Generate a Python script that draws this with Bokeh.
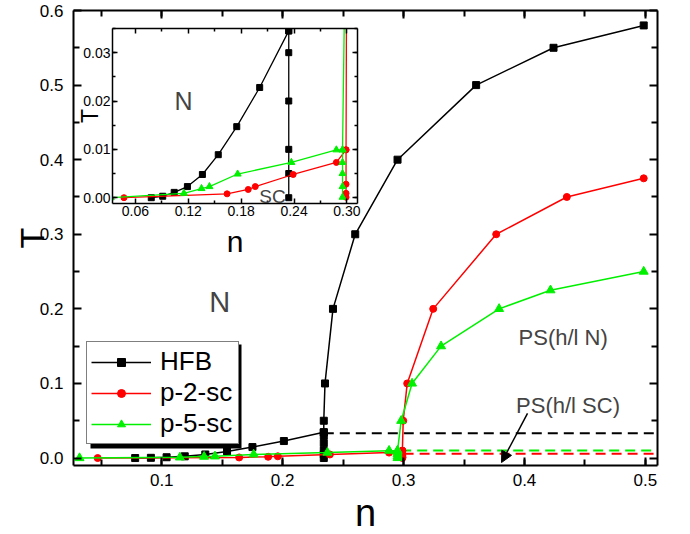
from bokeh.plotting import figure
from bokeh.models import (Range1d, LinearAxis, SingleIntervalTicker, FixedTicker, BoxAnnotation,
                          NumeralTickFormatter, Label, Arrow, NormalHead, Legend, LegendItem)
from bokeh.embed import file_html
from bokeh.resources import INLINE

FONT = "Liberation Sans"

# ---------------- data ----------------
# HFB: low-density branch and the SC boundary / upper branch
hfb_n_low = [0.078, 0.091, 0.104, 0.119, 0.136, 0.154, 0.175, 0.201, 0.234]
hfb_T_low = [0.0, 0.0003, 0.0011, 0.0023, 0.0048, 0.0089, 0.0147, 0.0228, 0.0345]
hfb_n_up = [0.234, 0.234, 0.234, 0.234, 0.234, 0.234, 0.234, 0.235, 0.2416, 0.260, 0.295, 0.360, 0.424, 0.4986]
hfb_T_up = [0.0, 0.005, 0.010, 0.020, 0.030, 0.0345, 0.050, 0.100, 0.200, 0.300, 0.400, 0.500, 0.550, 0.580]

# p-2-sc
p2_n_low = [0.047, 0.164, 0.188, 0.196, 0.239, 0.288, 0.299]
p2_T_low = [0.0, 0.0008, 0.0017, 0.0023, 0.0048, 0.0073, 0.0099]
p2_n_up = [0.299, 0.299, 0.299, 0.299, 0.2997, 0.303, 0.3245, 0.3766, 0.435, 0.4986]
p2_T_up = [0.0001, 0.0009, 0.0028, 0.0099, 0.050, 0.100, 0.200, 0.300, 0.350, 0.375]

# p-5-sc
p5_n_low = [0.032, 0.115, 0.135, 0.144, 0.176, 0.237, 0.288, 0.295]
p5_T_low = [0.0, 0.0009, 0.0019, 0.0023, 0.0049, 0.0073, 0.0099, 0.0099]
p5_n_up = [0.295, 0.295, 0.295, 0.295, 0.295, 0.298, 0.307, 0.331, 0.379, 0.4215, 0.4986]
p5_T_up = [0.0001, 0.0023, 0.0050, 0.0073, 0.0099, 0.050, 0.100, 0.150, 0.200, 0.225, 0.250]

# phase-separation boundaries (dashed)
ps_hfb_n = [0.234, 0.51]
ps_hfb_T = [0.0333, 0.0333]
ps_p5_n = [0.298, 0.51]
ps_p5_T = [0.0100, 0.0100]
ps_p2_n = [0.300, 0.51]
ps_p2_T = [0.0058, 0.0058]

main_y_ticks = [0.0, 0.1, 0.2, 0.3, 0.4, 0.5, 0.6]
main_y_minor = [0.05, 0.15, 0.25, 0.35, 0.45, 0.55]
inset_x_ticks = [0.06, 0.12, 0.18, 0.24, 0.30]
inset_x_minor = [0.03, 0.09, 0.15, 0.21, 0.27]

GREEN = "#00f000"
series = [
    ("HFB", "black", "square", hfb_n_low, hfb_T_low, hfb_n_up, hfb_T_up),
    ("p-2-sc", "#ff0000", "circle", p2_n_low, p2_T_low, p2_n_up, p2_T_up),
    ("p-5-sc", GREEN, "triangle", p5_n_low, p5_T_low, p5_n_up, p5_T_up),
]
dashed = [(ps_hfb_n, ps_hfb_T, "black"), (ps_p5_n, ps_p5_T, GREEN), (ps_p2_n, ps_p2_T, "#ff0000")]


def style_axis(ax, size, standoff, tin, tmin, lw, show_labels=True):
    ax.major_tick_in = tin
    ax.major_tick_out = 0
    ax.minor_tick_in = tmin
    ax.minor_tick_out = 0
    ax.axis_line_width = lw
    ax.major_tick_line_width = lw
    ax.minor_tick_line_width = lw
    ax.axis_line_color = "black"
    ax.major_tick_line_color = "black"
    ax.minor_tick_line_color = "black"
    ax.major_label_text_font = FONT
    ax.axis_label_text_font = FONT
    ax.axis_label_text_font_style = "normal"
    ax.axis_label_text_color = "black"
    if show_labels:
        ax.major_label_text_color = "black"
        ax.major_label_text_font_size = size
        ax.major_label_standoff = standoff
    else:
        ax.major_label_text_color = None
        ax.major_label_text_font_size = "1px"
        ax.major_label_standoff = 0


# ---------------- main figure ----------------
FW, FH = 584, 455
X0, X1, Y0, Y1 = 0.027, 0.51, -0.01, 0.6
p = figure(frame_width=FW, frame_height=FH,
           x_range=Range1d(X0, X1), y_range=Range1d(Y0, Y1),
           output_backend="svg", toolbar_location=None,
           min_border_left=73, min_border_right=17, min_border_top=10, min_border_bottom=60,
           x_axis_label="n", y_axis_label="T")
p.xgrid.visible = False
p.ygrid.visible = False
p.outline_line_color = None
p.background_fill_color = "white"
p.border_fill_color = "white"

xt = SingleIntervalTicker(interval=0.1, num_minor_ticks=2)
yt = FixedTicker(ticks=main_y_ticks, minor_ticks=main_y_minor)
p.xaxis.ticker = xt
p.yaxis.ticker = yt
p.yaxis.formatter = NumeralTickFormatter(format="0.0")
style_axis(p.xaxis[0], "17px", 8, 8, 6, 2)
style_axis(p.yaxis[0], "17px", 10, 8, 6, 2)
p.xaxis.axis_label_text_font_size = "38px"
p.yaxis.axis_label_text_font_size = "34px"
p.xaxis.axis_label_standoff = 3
p.yaxis.axis_label_standoff = -14
top_ax = LinearAxis(ticker=xt)
right_ax = LinearAxis(ticker=yt)
style_axis(top_ax, "17px", 0, 8, 6, 2, show_labels=False)
style_axis(right_ax, "17px", 0, 8, 6, 2, show_labels=False)
p.add_layout(top_ax, "above")
p.add_layout(right_ax, "right")

for xs, ys, c in dashed:
    p.line(xs, ys, line_color=c, line_width=2, line_dash="10 6")

items = []
for name, c, m, nl, tl, nu, tu in series:
    r1 = p.line(nl, tl, line_color=c, line_width=1.5)
    r2 = p.line(nu, tu, line_color=c, line_width=1.5)
    sz = 9 if m == "triangle" else 7
    r3 = p.scatter(nl, tl, marker=m, size=sz, fill_color=c, line_color=c)
    r4 = p.scatter(nu, tu, marker=m, size=sz, fill_color=c, line_color=c)
    items.append(LegendItem(label=name, renderers=[r1, r3]))

# legend box geometry (screen px from the frame's bottom-left corner)
LEG_X, LEG_Y, LEG_W, LEG_H, SHADOW = 13, 21, 151, 104, 4
sx = FW / (X1 - X0)
sy = FH / (Y1 - Y0)
p.add_layout(BoxAnnotation(left=X0 + (LEG_X + SHADOW) / sx,
                           right=X0 + (LEG_X + SHADOW + LEG_W) / sx,
                           bottom=Y0 + (LEG_Y - SHADOW) / sy,
                           top=Y0 + (LEG_Y - SHADOW + LEG_H) / sy,
                           fill_color="black", fill_alpha=1.0, line_color=None))
legend = Legend(items=items, location=(LEG_X, LEG_Y), background_fill_color="white",
                background_fill_alpha=1.0, label_text_color="black",
                label_text_font=FONT, label_text_font_size="26px", glyph_width=60,
                glyph_height=20, label_height=30, label_width=74, label_standoff=9,
                padding=4, spacing=0, margin=0, border_line_width=1.5,
                border_line_color="black")
p.add_layout(legend, "center")

p.add_layout(Label(x=0.148, y=0.209, text="N", text_font=FONT, text_font_size="29px",
                   text_align="center", text_baseline="middle"))
p.add_layout(Label(x=0.432, y=0.162, text="PS(h/l N)", text_font=FONT, text_font_size="22px",
                   text_align="center", text_baseline="middle"))
p.add_layout(Label(x=0.436, y=0.0705, text="PS(h/l SC)", text_font=FONT, text_font_size="22px",
                   text_align="center", text_baseline="middle"))
p.add_layout(Arrow(end=NormalHead(size=11, fill_color="black", line_color="black"),
                   x_start=0.4025, y_start=0.060, x_end=0.381, y_end=-0.006,
                   line_width=1.5, line_color="black"))

# ---------------- inset ----------------
inset = figure(frame_width=245, frame_height=175,
               x_range=Range1d(0.034, 0.312), y_range=Range1d(-0.0012, 0.035),
               output_backend="svg", toolbar_location=None,
               min_border_left=40, min_border_right=4, min_border_top=4, min_border_bottom=60,
               x_axis_label="n", y_axis_label="T")
inset.xgrid.visible = False
inset.ygrid.visible = False
inset.outline_line_color = None
inset.background_fill_color = "white"
inset.border_fill_color = None
ixt = FixedTicker(ticks=inset_x_ticks, minor_ticks=inset_x_minor)
iyt = SingleIntervalTicker(interval=0.01, num_minor_ticks=2)
inset.xaxis.ticker = ixt
inset.yaxis.ticker = iyt
inset.xaxis.formatter = NumeralTickFormatter(format="0.00")
inset.yaxis.formatter = NumeralTickFormatter(format="0.00")
style_axis(inset.xaxis[0], "14px", 2, 5, 3, 1.5)
style_axis(inset.yaxis[0], "14px", 2, 5, 3, 1.5)
inset.xaxis.axis_label_text_font_size = "30px"
inset.yaxis.axis_label_text_font_size = "23px"
inset.xaxis.axis_label_standoff = 6
inset.yaxis.axis_label_standoff = -23
itop = LinearAxis(ticker=ixt)
iright = LinearAxis(ticker=iyt)
style_axis(itop, "14px", 0, 5, 3, 1.5, show_labels=False)
style_axis(iright, "14px", 0, 5, 3, 1.5, show_labels=False)
inset.add_layout(itop, "above")
inset.add_layout(iright, "right")

for name, c, m, nl, tl, nu, tu in series:
    inset.line(nl, tl, line_color=c, line_width=1.3)
    inset.line(nu, tu, line_color=c, line_width=1.3)
    sz = 7 if m == "triangle" else 6
    inset.scatter(nl, tl, marker=m, size=sz, fill_color=c, line_color=c)
    inset.scatter(nu, tu, marker=m, size=sz, fill_color=c, line_color=c)

inset.add_layout(Label(x=0.1147, y=0.0199, text="N", text_font=FONT, text_font_size="25px",
                       text_align="center", text_baseline="middle"))
inset.add_layout(Label(x=0.2155, y=0.0002, text="SC", text_font=FONT, text_font_size="19px",
                       text_align="center", text_baseline="middle"))

inset.styles = {"position": "absolute", "left": "72px", "top": "24px", "z-index": "5"}

open("out.html", "w").write(file_html([p, inset], INLINE))
